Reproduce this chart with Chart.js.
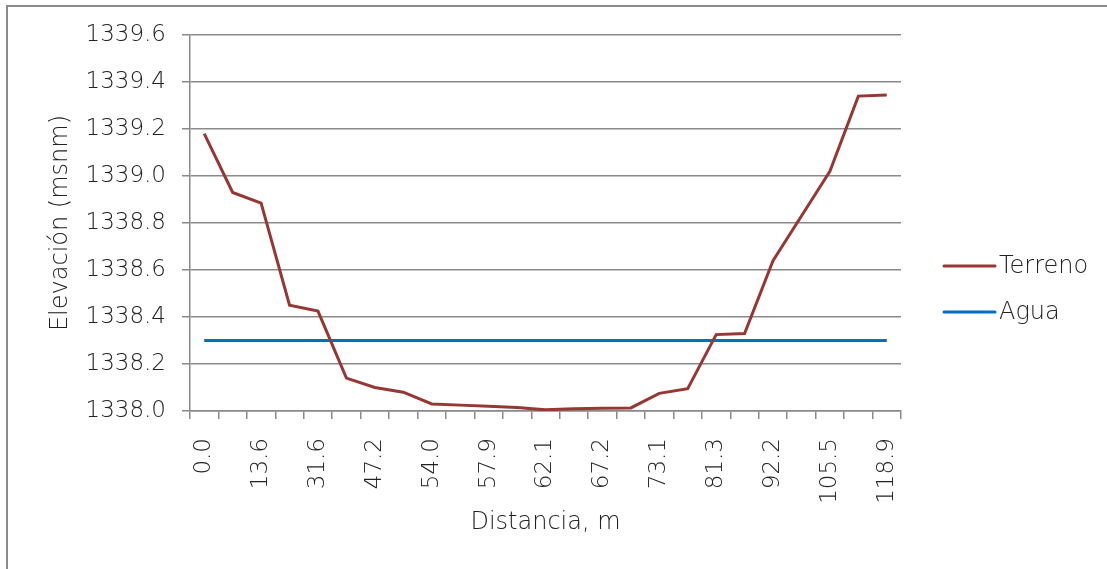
<!DOCTYPE html>
<html>
<head>
<meta charset="utf-8">
<script src="https://cdn.jsdelivr.net/npm/chart.js@4"></script>
<style>
  body { margin: 0; background: #fff; overflow: hidden; }
  #frame { position: absolute; left: 6px; top: 5px; width: 1200px; height: 700px; border: 2px solid #8a8a8a; }
  #myChart { position: absolute; left: 0; top: 0; }
</style>
</head>
<body>
<div id="frame"></div>
<canvas id="myChart" width="1107" height="569"></canvas>
<script>
// distancias (m) - only every other one is printed on the axis
let distancias = ['0.0', '6.8', '13.6', '22.6', '31.6', '39.4', '47.2', '50.6', '54.0', '56.0', '57.9', '60.0', '62.1',
    '64.7', '67.2', '70.2', '73.1', '77.2', '81.3', '86.8', '92.2', '98.9', '105.5', '112.2', '118.9'];
let terreno = [1339.18, 1338.93, 1338.885, 1338.45, 1338.425, 1338.14, 1338.10, 1338.08, 1338.03, 1338.025, 1338.02,
    1338.015, 1338.005, 1338.01, 1338.012, 1338.013, 1338.075, 1338.095, 1338.325, 1338.33, 1338.64, 1338.83,
    1339.02, 1339.34, 1339.345];
let agua = [1338.3, 1338.3, 1338.3, 1338.3, 1338.3, 1338.3, 1338.3, 1338.3, 1338.3, 1338.3, 1338.3, 1338.3, 1338.3,
    1338.3, 1338.3, 1338.3, 1338.3, 1338.3, 1338.3, 1338.3, 1338.3, 1338.3, 1338.3, 1338.3, 1338.3];

let fontFamily = "'DejaVu Sans', sans-serif";
let textColor = '#222';
let gridColor = '#8a8a8a';

// simple legend on the right, like the spreadsheet one
let sideLegend = {
    id: 'sideLegend',
    afterDraw(chart) {
        let c = chart.ctx;
        c.save();
        chart.data.datasets.forEach(function (ds, i) {
            let y = 266 + i * 46;
            c.strokeStyle = ds.borderColor;
            c.lineWidth = 3;
            c.lineCap = 'round';
            c.beginPath();
            c.moveTo(944, y);
            c.lineTo(995, y);
            c.stroke();
            c.fillStyle = textColor;
            c.font = '200 24px ' + fontFamily;
            c.textBaseline = 'middle';
            c.fillText(ds.label, 999, y + 1);
        });
        c.restore();
    }
};

let ctx = document.getElementById('myChart').getContext('2d');
let myChart = new Chart(ctx, {
    type: 'line',
    data: {
        labels: distancias,
        datasets: [{
            label: 'Terreno',
            data: terreno,
            borderColor: 'rgb(150, 55, 52)',
            backgroundColor: 'rgb(150, 55, 52)',
            borderWidth: 3,
            pointRadius: 0,
            tension: 0
        }, {
            label: 'Agua',
            data: agua,
            borderColor: 'rgb(0, 112, 192)',
            backgroundColor: 'rgb(0, 112, 192)',
            borderWidth: 3,
            pointRadius: 0,
            tension: 0
        }]
    },
    options: {
        responsive: false,
        animation: false,
        layout: { padding: { left: 0, top: 35, right: 206, bottom: 0 } },
        plugins: {
            legend: { display: false },
            tooltip: { enabled: false }
        },
        scales: {
            x: {
                offset: true,
                afterFit: function (scale) { scale.height = 158; },
                grid: { display: true, drawOnChartArea: false, offset: true, tickLength: 8, color: gridColor, lineWidth: 1.5 },
                border: { color: gridColor, width: 1.5 },
                ticks: {
                    autoSkip: false,
                    minRotation: 90,
                    maxRotation: 90,
                    padding: 19,
                    color: textColor,
                    font: { family: fontFamily, size: 23, weight: 200 },
                    callback: function (value, index) {
                        return index % 2 === 0 ? this.getLabelForValue(value) : '';
                    }
                },
                title: {
                    display: true,
                    text: 'Distancia, m',
                    color: textColor,
                    font: { family: fontFamily, size: 24, weight: 200 },
                    padding: { top: 0, bottom: 32 }
                }
            },
            y: {
                min: 1338.0,
                max: 1339.6,
                afterFit: function (scale) { scale.width = 190; },
                grid: { tickLength: 8, color: gridColor, lineWidth: 1.5 },
                border: { color: gridColor, width: 1.5 },
                ticks: {
                    stepSize: 0.2,
                    padding: 16,
                    color: textColor,
                    font: { family: fontFamily, size: 23, weight: 200 },
                    callback: function (value) { return value.toFixed(1); }
                },
                title: {
                    display: true,
                    text: 'Elevación (msnm)',
                    color: textColor,
                    font: { family: fontFamily, size: 24, weight: 200 },
                    padding: { top: 46, bottom: 0 }
                }
            }
        }
    },
    plugins: [sideLegend]
});
</script>
</body>
</html>
